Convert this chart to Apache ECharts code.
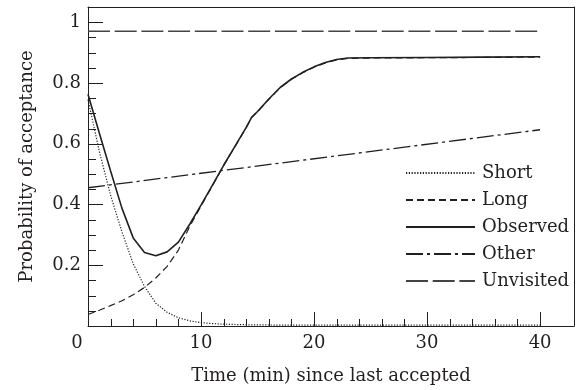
<!DOCTYPE html>
<html><head><meta charset="utf-8">
<script src="https://cdn.jsdelivr.net/npm/echarts@6/dist/echarts.min.js"></script>
<style>html,body{margin:0;padding:0;background:#fff}#c{width:581px;height:390px}</style>
</head><body><div id="c"></div>
<script>
// Tick values
const xMajorTicks = [0, 10, 20, 30, 40];
const xMinorTicks = [2, 4, 6, 8, 12, 14, 16, 18, 22, 24, 26, 28, 32, 34, 36, 38];
const yMajorTicks = [0, 0.2, 0.4, 0.6, 0.8, 1];
const yLabelTicks = [0.2, 0.4, 0.6, 0.8, 1];
const yMinorTicks = [0.05, 0.1, 0.15, 0.25, 0.3, 0.35, 0.45, 0.5, 0.55, 0.65, 0.7, 0.75, 0.85, 0.9, 0.95];

// Series data
const shortX = [0, 1, 2, 3, 4, 5, 6, 7, 8, 9, 10, 11, 12, 14, 17, 20, 30, 40];
const shortY = [0.745, 0.575, 0.43, 0.31, 0.205, 0.13, 0.075, 0.045, 0.027, 0.017, 0.011, 0.008, 0.006, 0.004, 0.003, 0.003, 0.003, 0.003];

const longX = [0, 1, 2, 3, 4, 5, 6, 7, 8, 9, 10, 11, 12, 13, 14, 14.5, 15, 16, 17, 18, 19, 20, 21, 22, 23, 25, 30, 35, 40];
const longY = [0.038, 0.052, 0.067, 0.083, 0.103, 0.127, 0.158, 0.196, 0.25, 0.328, 0.395, 0.461, 0.528, 0.590, 0.653, 0.687, 0.705, 0.746, 0.784, 0.812, 0.834, 0.852, 0.866, 0.876, 0.881, 0.882, 0.883, 0.884, 0.885];

const obsX = [0, 1, 2, 3, 4, 5, 6, 7, 8, 9, 10, 11, 12, 13, 14, 14.5, 15, 16, 17, 18, 19, 20, 21, 22, 23, 25, 30, 35, 40];
const obsY = [0.763, 0.635, 0.51, 0.388, 0.29, 0.242, 0.231, 0.244, 0.276, 0.335, 0.398, 0.463, 0.529, 0.591, 0.654, 0.688, 0.706, 0.747, 0.785, 0.813, 0.835, 0.853, 0.867, 0.877, 0.882, 0.883, 0.884, 0.885, 0.886];

const otherX = [0, 40];
const otherY = [0.455, 0.646];

const unvisitedX = [0, 40];
const unvisitedY = [0.97, 0.97];

const seriesNames = ['Short', 'Long', 'Observed', 'Other', 'Unvisited'];

const INK = '#231f20';
const FONT = 'DejaVu Serif';
const pairs = (xs, ys) => xs.map((x, i) => [x, ys[i]]);
const ln = (w) => ({color: INK, width: w || 1});

const chart = echarts.init(document.getElementById('c'), null, {renderer: 'canvas'});

const mkLine = (name, xs, ys, style) => ({
  name, type: 'line', xAxisIndex: 0, yAxisIndex: 0,
  data: pairs(xs, ys), symbol: 'none', showSymbol: false, smooth: false,
  color: style.color, itemStyle: {color: style.color, opacity: 0},
  lineStyle: style, emphasis: {disabled: true}, silent: true
});

// Tick marks drawn through the axes' own scales (api.coord), pointing into the plot
const snap = v => Math.round(v) + 0.5;
const tickSeries = (values, dir, len) => ({
  type: 'custom', xAxisIndex: 0, yAxisIndex: 0, silent: true, z: 4, clip: false,
  data: values.map(v => dir === 'x' ? [v, 0] : [0, v]),
  renderItem: (params, api) => {
    const p = api.coord([api.value(0), api.value(1)]);
    const shape = dir === 'x'
      ? {x1: snap(p[0]), y1: p[1], x2: snap(p[0]), y2: p[1] - len}
      : {x1: p[0], y1: snap(p[1]), x2: p[0] + len, y2: snap(p[1])};
    return {type: 'line', shape, style: {stroke: INK, lineWidth: 1}};
  }
});

const frameAxis = (pos) => ({
  type: 'value', position: pos,
  axisLine: {show: true, onZero: false, lineStyle: ln()},
  axisTick: {show: false}, axisLabel: {show: false}, splitLine: {show: false}
});

chart.setOption({
  animation: false,
  backgroundColor: '#fff',
  grid: {left: 88, right: 7, top: 7, bottom: 63},
  legend: {
    orient: 'vertical', left: 400, top: 158,
    itemWidth: 69, itemHeight: 14, itemGap: 7,
    itemStyle: {opacity: 0},
    textStyle: {fontFamily: FONT, fontSize: 18, color: INK, lineHeight: 20, padding: [0, 0, 0, 2]},
    data: seriesNames, selectedMode: false
  },
  xAxis: [
    {
      type: 'value', min: 0, max: 43, interval: 10, position: 'bottom',
      axisLine: {show: true, onZero: false, lineStyle: ln()}, splitLine: {show: false},
      axisTick: {show: false},
      axisLabel: {
        customValues: xMajorTicks, margin: 8, fontFamily: FONT, fontSize: 18, color: INK,
        formatter: v => v === 0 ? '{z|0}' : String(v),
        rich: {z: {fontFamily: FONT, fontSize: 18, color: INK, padding: [0, 22, 0, 0]}}
      },
      name: 'Time (min) since last accepted', nameLocation: 'middle', nameGap: 41,
      nameTextStyle: {fontFamily: FONT, fontSize: 18, color: INK}
    },
    Object.assign(frameAxis('top'), {min: 0, max: 43})
  ],
  yAxis: [
    {
      type: 'value', min: 0, max: 1.05, interval: 0.2, position: 'left',
      axisLine: {show: true, onZero: false, lineStyle: ln()}, splitLine: {show: false},
      axisTick: {show: false}, minorTick: {show: false},
      axisLabel: {customValues: yLabelTicks, margin: 7, fontFamily: FONT, fontSize: 18, color: INK},
      name: 'Probability of acceptance', nameLocation: 'middle', nameGap: 52,
      nameTextStyle: {fontFamily: FONT, fontSize: 18, color: INK}
    },
    Object.assign(frameAxis('right'), {min: 0, max: 1.05})
  ],
  series: [
    mkLine('Short', shortX, shortY, {color: INK, width: 1.2, type: [1.2, 1.6]}),
    mkLine('Long', longX, longY, {color: INK, width: 1.2, type: [7, 4]}),
    mkLine('Observed', obsX, obsY, {color: INK, width: 1.6, type: 'solid'}),
    mkLine('Other', otherX, otherY, {color: INK, width: 1.3, type: [17, 4, 3, 4]}),
    mkLine('Unvisited', unvisitedX, unvisitedY, {color: '#444', width: 1.6, type: [22, 4.7]}),
    tickSeries(xMajorTicks, 'x', 14),
    tickSeries(xMinorTicks, 'x', 7),
    tickSeries(yMajorTicks, 'y', 15),
    tickSeries(yMinorTicks, 'y', 8)
  ]
});
</script>
</body></html>
